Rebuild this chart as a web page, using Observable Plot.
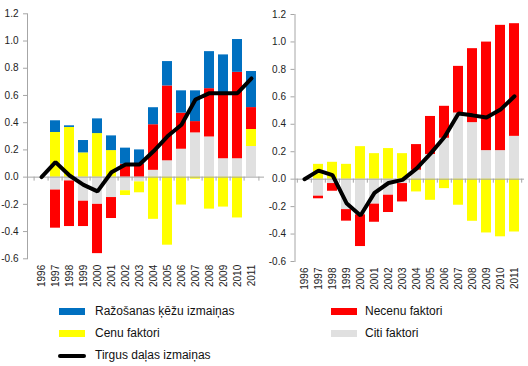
<!DOCTYPE html>
<html><head><meta charset="utf-8">
<script src="https://cdn.jsdelivr.net/npm/d3@7"></script>
<script src="https://cdn.jsdelivr.net/npm/@observablehq/plot@0.6"></script>
<style>
body{margin:0;background:#fff;}
#wrap{position:relative;width:528px;height:366px;overflow:hidden;font-family:"Liberation Sans",Arial,sans-serif;}
#left{position:absolute;left:0;top:0;}
#right{position:absolute;left:268px;top:0;}
.sw{position:absolute;height:7px;width:26px;}
.ln{position:absolute;height:4px;width:28px;background:#000;border-radius:2px;}
.tx{position:absolute;font-size:12px;line-height:14px;color:#111;white-space:nowrap;}
</style></head>
<body>
<div id="wrap">
  <div id="left"></div>
  <div id="right"></div>
  <div id="legend"></div>
</div>
<script>
// ---- data ----
const years = ["1996","1997","1998","1999","2000","2001","2002","2003","2004","2005","2006","2007","2008","2009","2010","2011"];
const yTicks = [-0.6,-0.4,-0.2,0,0.2,0.4,0.6,0.8,1.0,1.2];

const seriesNames = ["Citi faktori","Cenu faktori","Necenu faktori","Ražošanas ķēžu izmaiņas"];
const seriesColors = ["#E0E0E0","#FFFF00","#FF0000","#0070C0"];
const lineName = "Tirgus daļas izmaiņas";

// left panel
const leftCiti   = [0,-0.095,-0.028,-0.177,-0.20,-0.15,-0.10,-0.035,0.05,0.12,0.205,0.325,0.295,0.135,0.135,0.225];
const leftCenu   = [0,0.328,0.365,0.178,0.32,0.195,-0.035,-0.08,-0.31,-0.50,-0.205,-0.015,-0.235,-0.22,-0.30,0.125];
const leftNecenu = [0,-0.28,-0.335,-0.186,-0.362,-0.154,0.095,0.095,0.335,0.55,0.265,0.083,0.355,0.475,0.635,0.161];
const leftRazos  = [0,0.086,0.012,0.091,0.108,0.108,0.118,0.105,0.125,0.179,0.164,0.226,0.272,0.288,0.241,0.265];
const leftTirgus = [0,0.11,0.012,-0.057,-0.105,0.036,0.093,0.093,0.19,0.30,0.385,0.57,0.617,0.617,0.617,0.725];

// right panel
const rightCiti   = [0,-0.124,-0.032,-0.222,-0.26,-0.182,-0.117,-0.032,0.065,0.18,0.298,0.482,0.412,0.208,0.208,0.312];
const rightCenu   = [0,0.108,0.123,0.108,0.237,0.186,0.223,0.186,-0.093,-0.154,-0.069,-0.19,-0.307,-0.392,-0.42,-0.385];
const rightNecenu = [0,-0.019,-0.056,-0.084,-0.231,-0.132,-0.126,-0.134,0.187,0.277,0.233,0.34,0.539,0.791,0.913,0.821];
const rightTirgus = [0,0.062,0.03,-0.175,-0.265,-0.10,-0.028,-0.005,0.077,0.186,0.307,0.478,0.465,0.449,0.507,0.604];

function panel({width, ml, mr, mt, mb, stacks, line}) {
  const rows = [];
  years.forEach((yr, i) => {
    stacks.forEach(s => rows.push({year: yr, name: s.name, value: s.values[i]}));
  });
  const lineRows = years.map((yr, i) => ({year: yr, value: line[i]}));
  const height = 300;
  const step = (width - ml - mr) / years.length;
  const pxPerUnit = (height - mt - mb) / 1.8;
  const tickLen = 4 / pxPerUnit;
  return Plot.plot({
    width, height,
    marginLeft: ml, marginRight: mr, marginTop: mt, marginBottom: mb,
    style: {fontFamily: '"Liberation Sans", Arial, sans-serif', fontSize: "10px", color: "#222", background: "transparent"},
    x: {type: "band", domain: years, paddingInner: 0.32, paddingOuter: 0.16, label: null},
    y: {domain: [-0.6, 1.2], label: null},
    color: {domain: seriesNames, range: seriesColors},
    marks: [
      Plot.barY(rows, {x: "year", y: "value", fill: "name", order: null}),
      Plot.ruleY([0], {stroke: "#a6a6a6"}),
      Plot.ruleX(years, {x: d => d, y1: 0, y2: -tickLen, dx: -step / 2, stroke: "#a6a6a6"}),
      Plot.ruleX([years[years.length - 1]], {x: d => d, y1: 0, y2: -tickLen, dx: step / 2, stroke: "#a6a6a6"}),
      Plot.line(lineRows, {x: "year", y: "value", stroke: "#000", strokeWidth: 4, strokeLinejoin: "miter"}),
      Plot.frame({anchor: "left", stroke: "#a6a6a6"}),
      Plot.axisY(yTicks, {tickSize: 4, tickFormat: () => "", stroke: "#a6a6a6", label: null}),
      Plot.axisY(yTicks, {tickSize: 0, tickPadding: 9, tickFormat: d => d.toFixed(1), fill: "#222", label: null}),
      Plot.axisX({tickRotate: -90, tickSize: 0, tickPadding: 6, fill: "#222", label: null})
    ]
  });
}

const leftSvg = panel({
  width: 268, ml: 27, mr: 4, mt: 13.3, mb: 300 - 258.3,
  stacks: [
    {name: seriesNames[0], values: leftCiti},
    {name: seriesNames[1], values: leftCenu},
    {name: seriesNames[2], values: leftNecenu},
    {name: seriesNames[3], values: leftRazos}
  ],
  line: leftTirgus
});
document.getElementById("left").appendChild(leftSvg);

const rightSvg = panel({
  width: 260, ml: 26.5, mr: 4, mt: 14, mb: 300 - 261,
  stacks: [
    {name: seriesNames[0], values: rightCiti},
    {name: seriesNames[1], values: rightCenu},
    {name: seriesNames[2], values: rightNecenu}
  ],
  line: rightTirgus
});
document.getElementById("right").appendChild(rightSvg);

// legend
const legendItems = [
  {label: seriesNames[3], color: seriesColors[3], col: 0, row: 0},
  {label: seriesNames[1], color: seriesColors[1], col: 0, row: 1},
  {label: lineName, color: null, col: 0, row: 2},
  {label: seriesNames[2], color: seriesColors[2], col: 1, row: 0},
  {label: seriesNames[0], color: seriesColors[0], col: 1, row: 1}
];
const rowsY = [311.7, 333.7, 355.7];
const colSw = [59.3, 331];
const colTx = [95, 365];
const leg = document.getElementById("legend");
legendItems.forEach(it => {
  const cy = rowsY[it.row];
  const s = document.createElement("div");
  if (it.color) {
    s.className = "sw";
    s.style.left = colSw[it.col] + "px";
    s.style.top = (cy - 3.5) + "px";
    s.style.background = it.color;
  } else {
    s.className = "ln";
    s.style.left = (colSw[it.col] - 1) + "px";
    s.style.top = (cy - 2) + "px";
  }
  leg.appendChild(s);
  const t = document.createElement("div");
  t.className = "tx";
  t.style.left = colTx[it.col] + "px";
  t.style.top = (cy - 7.5) + "px";
  t.textContent = it.label;
  leg.appendChild(t);
});
</script>
</body></html>
